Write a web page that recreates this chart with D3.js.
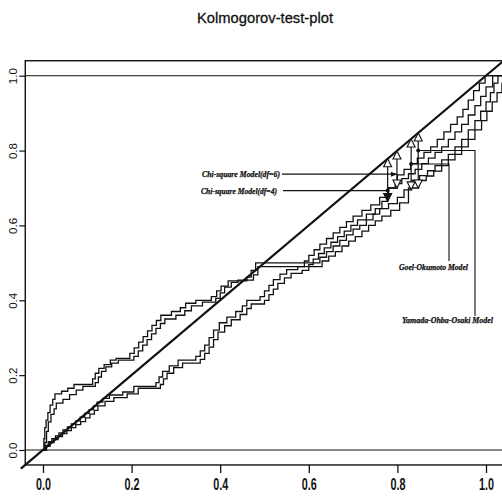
<!DOCTYPE html>
<html>
<head>
<meta charset="utf-8">
<title>Kolmogorov-test-plot</title>
<style>
  body { margin: 0; background: #fff; }
</style>
</head>
<body>
<div id="chart"></div>
<script src="https://cdn.jsdelivr.net/npm/d3@7"></script>
<script>
const chiSquare6 = [[0,0],[0.006,0.012],[0.012,0.022],[0.02,0.03],[0.028,0.038],[0.036,0.046],[0.045,0.054],[0.055,0.062],[0.064,0.07],[0.074,0.078],[0.084,0.088],[0.094,0.098],[0.104,0.108],[0.114,0.118],[0.122,0.128],[0.135,0.138],[0.15,0.147],[0.18,0.155],[0.205,0.17],[0.255,0.18],[0.262,0.195],[0.27,0.21],[0.285,0.225],[0.305,0.24],[0.345,0.25],[0.355,0.265],[0.365,0.28],[0.375,0.3],[0.385,0.32],[0.398,0.34],[0.415,0.355],[0.435,0.37],[0.45,0.385],[0.46,0.4],[0.49,0.41],[0.5,0.425],[0.51,0.44],[0.52,0.455],[0.535,0.47],[0.55,0.482],[0.575,0.49],[0.59,0.505],[0.6,0.52],[0.612,0.535],[0.625,0.55],[0.64,0.565],[0.655,0.58],[0.67,0.595],[0.685,0.61],[0.7,0.625],[0.72,0.64],[0.74,0.655],[0.76,0.675],[0.78,0.7],[0.8,0.735],[0.815,0.75],[0.83,0.765],[0.845,0.78],[0.86,0.795],[0.875,0.81],[0.89,0.83],[0.905,0.85],[0.92,0.87],[0.935,0.89],[0.948,0.91],[0.96,0.935],[0.972,0.96],[0.985,0.98],[0.998,1],[1.1,1]];
const chiSquare4 = [[0,0],[0.008,0.01],[0.016,0.02],[0.025,0.028],[0.034,0.036],[0.044,0.044],[0.054,0.052],[0.064,0.06],[0.074,0.068],[0.085,0.076],[0.096,0.086],[0.106,0.096],[0.116,0.106],[0.124,0.118],[0.14,0.13],[0.16,0.14],[0.19,0.15],[0.215,0.165],[0.265,0.175],[0.272,0.19],[0.28,0.205],[0.295,0.22],[0.315,0.232],[0.355,0.242],[0.365,0.258],[0.375,0.275],[0.385,0.295],[0.395,0.315],[0.41,0.332],[0.425,0.348],[0.445,0.362],[0.46,0.378],[0.47,0.39],[0.5,0.4],[0.51,0.415],[0.52,0.43],[0.53,0.445],[0.545,0.46],[0.56,0.472],[0.585,0.48],[0.6,0.495],[0.61,0.51],[0.622,0.525],[0.635,0.54],[0.65,0.555],[0.665,0.57],[0.68,0.585],[0.695,0.6],[0.71,0.615],[0.73,0.63],[0.75,0.645],[0.765,0.664],[0.778,0.7],[0.795,0.712],[0.81,0.725],[0.825,0.738],[0.84,0.75],[0.855,0.765],[0.87,0.78],[0.885,0.795],[0.9,0.81],[0.915,0.83],[0.93,0.85],[0.945,0.87],[0.96,0.895],[0.975,0.92],[0.988,0.945],[1.0,0.97],[1.015,1],[1.1,1]];
const goelOkumoto = [[0,0],[0.002,0.03],[0.004,0.06],[0.007,0.08],[0.011,0.1],[0.016,0.12],[0.022,0.135],[0.027,0.15],[0.042,0.157],[0.056,0.165],[0.07,0.175],[0.112,0.19],[0.118,0.205],[0.126,0.218],[0.138,0.228],[0.152,0.24],[0.165,0.245],[0.196,0.258],[0.206,0.273],[0.216,0.288],[0.226,0.303],[0.236,0.318],[0.246,0.333],[0.256,0.346],[0.266,0.36],[0.29,0.37],[0.31,0.38],[0.322,0.392],[0.345,0.4],[0.38,0.41],[0.392,0.425],[0.402,0.438],[0.418,0.452],[0.46,0.462],[0.47,0.48],[0.48,0.5],[0.625,0.515],[0.64,0.53],[0.655,0.545],[0.67,0.56],[0.685,0.575],[0.7,0.59],[0.715,0.6],[0.73,0.615],[0.745,0.63],[0.76,0.645],[0.78,0.658],[0.8,0.675],[0.815,0.695],[0.832,0.72],[0.85,0.733],[0.868,0.746],[0.885,0.76],[0.9,0.775],[0.915,0.79],[0.93,0.81],[0.945,0.83],[0.96,0.855],[0.975,0.88],[0.988,0.905],[1.0,0.93],[1.01,0.955],[1.018,0.98],[1.027,1],[1.1,1]];
const yamadaOhbaOsaki = [[0,0],[0.004,0.02],[0.008,0.05],[0.012,0.075],[0.018,0.095],[0.025,0.11],[0.03,0.125],[0.045,0.135],[0.06,0.148],[0.075,0.16],[0.09,0.17],[0.118,0.18],[0.125,0.195],[0.132,0.21],[0.142,0.222],[0.155,0.232],[0.17,0.24],[0.205,0.25],[0.215,0.265],[0.225,0.28],[0.235,0.295],[0.245,0.31],[0.255,0.325],[0.265,0.338],[0.275,0.35],[0.3,0.36],[0.32,0.372],[0.335,0.385],[0.36,0.395],[0.39,0.405],[0.4,0.42],[0.41,0.435],[0.425,0.448],[0.44,0.454],[0.475,0.468],[0.485,0.49],[0.63,0.505],[0.645,0.518],[0.66,0.53],[0.675,0.545],[0.69,0.558],[0.705,0.57],[0.72,0.585],[0.735,0.6],[0.75,0.612],[0.765,0.625],[0.785,0.64],[0.805,0.66],[0.825,0.7],[0.848,0.72],[0.865,0.732],[0.882,0.745],[0.9,0.76],[0.915,0.775],[0.93,0.79],[0.945,0.81],[0.96,0.83],[0.975,0.855],[0.99,0.88],[1.002,0.905],[1.014,0.93],[1.025,0.955],[1.036,0.98],[1.045,1],[1.1,1]];

// maximum deviation per model: chi4, chi6, goel, yamada
const modelNames = ["Chi-square Model(df=4)", "Chi-square Model(df=6)", "Goel-Okumoto Model", "Yamada-Ohba-Osaki Model"];
const devX = [0.778, 0.799, 0.831, 0.847];
const devLow = [0.664, 0.70, 0.695, 0.70];
const leaderY = [0.693, 0.737, 0.764, 0.80];

const xTicks = [0, 0.2, 0.4, 0.6, 0.8, 1.0];
const yTicks = [0, 0.2, 0.4, 0.6, 0.8, 1.0];

const width = 502, height = 503;
const x = d3.scaleLinear().domain([0, 1]).range([43, 486]);
const y = d3.scaleLinear().domain([0, 1]).range([450, 75.7]);
const ink = "#111";

const svg = d3.select("#chart").append("svg")
    .attr("width", width)
    .attr("height", height)
    .style("font-family", "'Liberation Sans', Arial, sans-serif");

// title
svg.append("text")
    .attr("x", 265).attr("y", 23)
    .attr("text-anchor", "middle")
    .attr("font-size", 15.5)
    .attr("textLength", 136)
    .attr("lengthAdjust", "spacingAndGlyphs")
    .attr("fill", ink)
    .attr("stroke", ink).attr("stroke-width", 0.3)
    .text("Kolmogorov-test-plot");

const x0 = x(-0.04), x1 = x(1.04), y0 = y(-0.04), y1 = y(1.04);

svg.append("clipPath").attr("id", "box")
  .append("rect").attr("x", x0).attr("y", y1).attr("width", x1 - x0).attr("height", y0 - y1);

// axes
const xAxis = svg.append("g")
    .attr("transform", `translate(0, ${y0})`)
    .call(d3.axisBottom(x).tickValues(xTicks).tickSize(8).tickFormat(d3.format(".1f")));
xAxis.select(".domain").remove();
xAxis.selectAll("line").attr("stroke", ink).attr("stroke-width", 1.3);
xAxis.selectAll("text")
    .attr("y", 25)
    .attr("dy", null)
    .attr("font-size", 16)
    .attr("font-weight", "bold")
    .attr("font-family", "'Liberation Sans', Arial, sans-serif")
    .attr("textLength", 15)
    .attr("lengthAdjust", "spacingAndGlyphs")
    .attr("fill", ink);

const yAxis = svg.append("g")
    .attr("transform", `translate(${x0}, 0)`)
    .call(d3.axisLeft(y).tickValues(yTicks).tickSize(6).tickFormat(d3.format(".1f")));
yAxis.select(".domain").remove();
yAxis.selectAll("line").attr("stroke", ink).attr("stroke-width", 1.2);
yAxis.selectAll("text")
    .attr("x", null).attr("dy", null)
    .attr("transform", "translate(-8, 0) rotate(-90)")
    .attr("text-anchor", "middle")
    .attr("font-size", 11.5)
    .attr("font-family", "'Liberation Sans', Arial, sans-serif")
    .attr("fill", ink);

// box
svg.append("rect")
    .attr("x", x0).attr("y", y1)
    .attr("width", x1 - x0).attr("height", y0 - y1)
    .attr("fill", "none").attr("stroke", ink).attr("stroke-width", 1.4);

// reference lines at 0 and 1
svg.selectAll(".hline").data([0, 1]).join("line")
    .attr("x1", x0).attr("x2", x1)
    .attr("y1", d => y(d)).attr("y2", d => y(d))
    .attr("stroke", ink).attr("stroke-width", 1.1);

// diagonal
svg.append("line")
    .attr("x1", x(-0.05)).attr("y1", y(-0.05))
    .attr("x2", x(1.04)).attr("y2", y(1.04))
    .attr("stroke", ink).attr("stroke-width", 2.2);

// step curves
const step = d3.line()
    .x(d => x(d[0]))
    .y(d => y(d[1]))
    .curve(d3.curveStepAfter);

svg.append("g").attr("clip-path", "url(#box)")
  .selectAll("path")
  .data([chiSquare4, chiSquare6, goelOkumoto, yamadaOhbaOsaki])
  .join("path")
    .attr("d", step)
    .attr("fill", "none")
    .attr("stroke", ink)
    .attr("stroke-width", 1.3);

// deviation arrows
const dev = svg.append("g");
devX.forEach((dx, i) => {
  const px = x(dx), top = y(dx), bot = y(devLow[i]);
  dev.append("line")
      .attr("x1", px).attr("x2", px).attr("y1", top + 7).attr("y2", bot - 7)
      .attr("stroke", ink).attr("stroke-width", 1.2);
  dev.append("path")
      .attr("d", `M${px},${top}L${px - 4},${top + 8}L${px + 4},${top + 8}Z`)
      .attr("fill", "#fff").attr("stroke", ink).attr("stroke-width", 1.1);
  dev.append("path")
      .attr("d", `M${px},${bot}L${px - 4},${bot - 8}L${px + 4},${bot - 8}Z`)
      .attr("fill", i === 0 ? ink : "#fff").attr("stroke", ink).attr("stroke-width", 1.1);
});

// labels and leaders
const labelFont = "'Liberation Serif', 'DejaVu Serif', serif";
function label(txt, lx, ly, len) {
  svg.append("text")
      .attr("x", lx).attr("y", ly)
      .attr("font-family", labelFont)
      .attr("font-style", "italic")
      .attr("font-weight", "bold")
      .attr("font-size", 7.5)
      .attr("textLength", len)
      .attr("lengthAdjust", "spacingAndGlyphs")
      .attr("fill", ink)
      .attr("stroke", ink).attr("stroke-width", 0.25)
      .text(txt);
}

label(modelNames[1], 202, 176.5, 78);
label(modelNames[0], 201, 193.5, 76);
label(modelNames[2], 399, 270, 69);
label(modelNames[3], 402, 323, 91);

const lead = svg.append("g").attr("stroke", ink).attr("stroke-width", 1.1).attr("fill", "none");
// chi-square df=6 -> arrow at its deviation line
lead.append("line")
    .attr("x1", 282).attr("x2", x(devX[1])).attr("y1", y(leaderY[1])).attr("y2", y(leaderY[1]));
svg.append("path")
    .attr("d", `M${x(devX[1])},${y(leaderY[1])}l-6,-2.5l0,5Z`).attr("fill", ink);
// chi-square df=4 -> dot
lead.append("line")
    .attr("x1", 283).attr("x2", x(devX[0])).attr("y1", y(leaderY[0])).attr("y2", y(leaderY[0]));
// goel-okumoto
lead.append("path")
    .attr("d", `M${x(devX[2])},${y(leaderY[2])}H449V261`);
// yamada-ohba-osaki
lead.append("path")
    .attr("d", `M${x(devX[3])},${y(leaderY[3])}H475V316`);

svg.selectAll(".dot").data([0, 2, 3]).join("circle")
    .attr("cx", i => x(devX[i]))
    .attr("cy", i => y(leaderY[i]))
    .attr("r", 2)
    .attr("fill", ink);
</script>
</body>
</html>
